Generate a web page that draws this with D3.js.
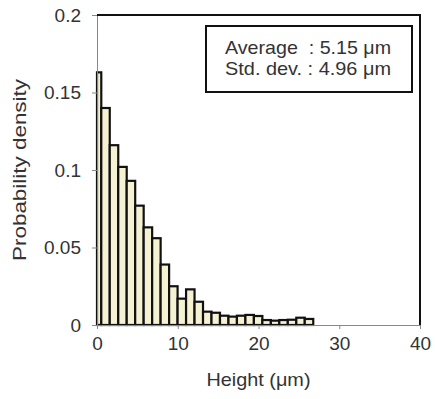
<!DOCTYPE html>
<html>
<head>
<meta charset="utf-8">
<script src="https://cdn.jsdelivr.net/npm/d3@7"></script>
<style>
  html, body { margin: 0; padding: 0; background: #fff; }
  svg { display: block; }
  text { font-family: "Liberation Sans", Arial, sans-serif; fill: #333; }
</style>
</head>
<body>
<svg id="chart" width="435" height="399"></svg>
<script>
// Histogram bin edges (μm) and probability density per bin
const binEdges = [0, 0.53, 1.58, 2.63, 3.68, 4.73, 5.78, 6.83, 7.88, 8.93, 9.98,
  11.03, 12.08, 13.13, 14.18, 15.23, 16.28, 17.33, 18.38, 19.43, 20.48,
  21.53, 22.58, 23.63, 24.68, 25.73, 26.78];
const density = [0.163, 0.140, 0.116, 0.102, 0.093, 0.077, 0.063, 0.056, 0.039, 0.025,
  0.017, 0.023, 0.015, 0.0086, 0.0079, 0.0060, 0.0054, 0.0060, 0.0065, 0.0058,
  0.0032, 0.0028, 0.0032, 0.0034, 0.0047, 0.0039];

const xTicks = [0, 10, 20, 30, 40];
const yTicks = [0, 0.05, 0.1, 0.15, 0.2];
const yTickLabels = ["0", "0.05", "0.1", "0.15", "0.2"];
const statLines = ["Average  : 5.15 μm", "Std. dev. : 4.96 μm"];

const svg = d3.select("#chart");
const x = d3.scaleLinear().domain([0, 40]).range([97, 420]);
const y = d3.scaleLinear().domain([0, 0.2]).range([325, 15]);

const bins = density.map((d, i) => ({ x0: binEdges[i], x1: binEdges[i + 1], v: d }));

// bars
svg.append("g").selectAll("rect").data(bins).join("rect")
  .attr("x", d => x(d.x0))
  .attr("width", d => x(d.x1) - x(d.x0))
  .attr("y", d => y(d.v))
  .attr("height", d => y(0) - y(d.v))
  .attr("fill", "#f5f2d4")
  .attr("stroke", "#111")
  .attr("stroke-width", 2.2);

// axes
const yAxis = svg.append("g").attr("transform", `translate(${x(0)},0)`)
  .call(d3.axisLeft(y).tickValues(yTicks).tickSize(5).tickPadding(11)
    .tickFormat((d, i) => yTickLabels[i]));
const xAxis = svg.append("g").attr("transform", `translate(0,${y(0)})`)
  .call(d3.axisBottom(x).tickValues(xTicks).tickSize(4).tickPadding(8)
    .tickFormat(d3.format("d")));
[yAxis, xAxis].forEach(g => {
  g.select(".domain").attr("stroke", "#888").attr("stroke-width", 1);
  g.selectAll(".tick line").attr("stroke", "#888");
  g.selectAll(".tick text").attr("font-size", 19).attr("fill", "#333")
    .style("font-family", "'Liberation Sans', Arial, sans-serif");
});

// top and right frame
svg.append("path")
  .attr("d", `M${x(0)},${y(0.2)}H${x(40)}V${y(0)}`)
  .attr("fill", "none").attr("stroke", "#111").attr("stroke-width", 2);

// axis titles
svg.append("text")
  .attr("x", (x(0) + x(40)) / 2).attr("y", 386)
  .attr("text-anchor", "middle").attr("font-size", 19)
  .attr("textLength", 104).attr("lengthAdjust", "spacingAndGlyphs")
  .text("Height (μm)");
svg.append("text")
  .attr("transform", `translate(26,${(y(0) + y(0.2)) / 2}) rotate(-90)`)
  .attr("text-anchor", "middle").attr("font-size", 19)
  .attr("textLength", 182).attr("lengthAdjust", "spacingAndGlyphs")
  .text("Probability density");

// statistics box
svg.append("rect")
  .attr("x", 206).attr("y", 26).attr("width", 206).attr("height", 66)
  .attr("fill", "#fff").attr("stroke", "#111").attr("stroke-width", 2);
svg.append("g").selectAll("text").data(statLines).join("text")
  .attr("x", 225).attr("y", (d, i) => 54 + i * 21)
  .attr("font-size", 19)
  .attr("textLength", 166).attr("lengthAdjust", "spacingAndGlyphs")
  .attr("xml:space", "preserve")
  .style("white-space", "pre")
  .text(d => d);
</script>
</body>
</html>
